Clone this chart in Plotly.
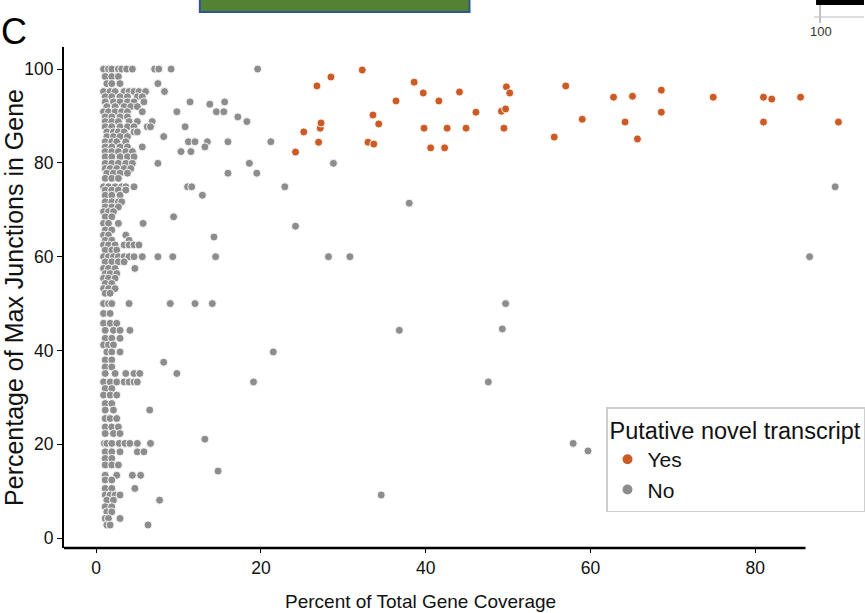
import plotly.graph_objects as go

# ---------------- data ----------------
# "No" (grey) points: rows of (y value, list of x values)
no_rows = [
    (100.0, [0.9, 1.5, 1.9, 2.7, 3.1, 3.7, 4.4, 7.1, 7.6, 9.1, 19.6]),
    (98.4, [1.1, 1.9, 2.7]),
    (96.9, [1.3, 1.9, 2.9, 7.5]),
    (95.2, [0.9, 1.7, 2.3, 3.4, 4.0, 4.6, 5.2, 6.0, 8.3]),
    (94.1, [1.1, 1.9, 2.9, 3.8, 5.0, 5.6]),
    (93.0, [1.1, 2.1, 2.9, 3.8, 4.6, 5.8, 11.4, 15.6]),
    (92.5, [13.8]),
    (92.0, [1.3, 2.3, 3.4, 4.2, 5.0]),
    (90.9, [0.9, 1.5, 2.3, 3.1, 3.8, 5.6, 9.8, 14.6, 15.5]),
    (89.8, [1.1, 1.9, 2.9, 3.8, 17.2]),
    (88.8, [1.1, 1.9, 2.7, 4.0, 5.0, 6.8, 18.3]),
    (87.7, [1.1, 1.9, 2.9, 3.8, 4.6, 6.2, 6.6, 10.8]),
    (86.6, [1.3, 2.1, 2.7, 3.4, 4.6, 5.0]),
    (85.6, [1.3, 2.1, 2.9, 3.8, 8.2]),
    (84.5, [1.1, 1.9, 2.5, 3.6, 11.2, 12.0, 13.5, 16.0, 21.2]),
    (83.4, [1.1, 1.9, 2.9, 3.8, 5.6, 13.2]),
    (82.4, [1.1, 1.9, 2.7, 3.6, 4.4, 10.3, 11.5]),
    (81.3, [1.1, 1.9, 2.9, 3.8, 4.6]),
    (79.9, [1.1, 1.9, 2.7, 3.6, 4.4, 7.5, 18.6, 28.8]),
    (78.8, [1.1, 1.7, 2.5, 3.4, 4.2]),
    (77.8, [1.3, 2.1, 2.9, 3.8, 16.0, 19.5]),
    (76.7, [1.1, 1.9, 2.7]),
    (74.9, [0.9, 1.5, 2.3, 3.1, 3.6, 4.6, 11.1, 11.6, 22.9, 89.7]),
    (74.2, [1.1, 1.9, 2.7, 3.6]),
    (73.1, [1.1, 1.9, 2.9, 12.9]),
    (71.7, [1.1, 1.9, 2.7, 3.1]),
    (71.4, [38.0]),
    (70.6, [1.1, 1.9, 2.7]),
    (69.6, [0.9, 1.5, 2.1]),
    (68.5, [1.1, 1.9, 9.4]),
    (67.1, [0.9, 1.5, 2.7, 5.7]),
    (66.5, [24.2]),
    (65.7, [1.1, 1.9]),
    (64.6, [0.9, 1.5, 3.6]),
    (64.2, [14.3]),
    (63.5, [1.1, 1.9, 4.0]),
    (62.5, [0.9, 1.5, 2.3, 3.4, 4.0, 4.6, 5.2]),
    (61.4, [1.1, 1.9, 2.5]),
    (60.0, [0.9, 1.5, 2.1, 2.7, 3.4, 4.0, 4.6, 5.6, 7.5, 9.3, 14.5, 28.2, 30.8, 86.6]),
    (58.9, [1.1, 1.9, 2.7, 3.4]),
    (57.5, [0.9, 1.5, 2.3, 4.7]),
    (56.4, [1.1, 1.7, 2.5]),
    (55.4, [0.9, 1.5, 2.3]),
    (54.3, [1.1, 1.9]),
    (53.2, [0.9, 1.5, 2.3]),
    (52.2, [1.1, 1.7]),
    (50.0, [0.9, 1.5, 1.9, 4.0, 9.0, 12.0, 14.1, 49.7]),
    (47.9, [0.9, 1.7]),
    (45.8, [0.9, 1.7, 2.5]),
    (44.3, [1.1, 2.1, 2.9, 4.1, 36.8]),
    (44.6, [49.3]),
    (42.6, [1.1, 1.9, 2.9]),
    (41.2, [0.9, 1.5, 2.1]),
    (39.7, [1.3, 1.9, 2.9, 21.5]),
    (38.0, [1.1, 1.9]),
    (37.5, [8.2]),
    (36.5, [1.1, 1.9]),
    (35.1, [1.1, 2.3, 3.6, 4.6, 5.3, 9.8]),
    (33.3, [0.9, 1.7, 2.5, 3.4, 4.0, 4.6, 5.0, 19.1, 47.6]),
    (31.9, [1.1, 1.9]),
    (30.5, [0.9, 1.7, 2.5]),
    (28.7, [1.1, 1.9]),
    (27.3, [1.1, 2.1, 6.5]),
    (25.5, [1.1, 1.7, 2.5]),
    (23.7, [1.1, 1.9, 2.7]),
    (22.3, [1.1, 2.1, 2.9]),
    (21.1, [13.2]),
    (20.2, [1.0, 1.3, 1.9, 2.8, 3.5, 4.1, 5.0, 6.6, 57.9]),
    (18.4, [1.1, 1.9, 2.9, 5.0, 5.8]),
    (18.6, [59.7]),
    (17.0, [1.1, 1.9]),
    (15.6, [1.1, 1.9, 2.7]),
    (14.3, [14.8]),
    (13.4, [1.1, 2.5, 4.4, 5.4]),
    (12.4, [1.1, 1.9]),
    (10.6, [1.1, 1.9, 4.7]),
    (9.2, [1.1, 1.7, 2.3, 2.9, 34.6]),
    (8.1, [1.3, 2.1, 7.7]),
    (6.7, [1.1, 1.9]),
    (5.6, [1.3, 1.9]),
    (4.2, [1.1, 1.5, 2.9]),
    (2.8, [1.3, 1.7, 6.3]),
]

yes_x = [24.2, 25.2, 26.8, 27.0, 27.2, 27.3, 28.5, 32.3, 33.0, 33.6, 33.7, 34.3,
         36.4, 38.6, 39.7, 39.8, 40.6, 41.6, 42.3, 42.6, 44.1, 44.9, 46.1, 49.2,
         49.5, 49.7, 49.8, 50.2, 55.6, 57.0, 59.0, 62.8, 64.2, 65.1, 65.7, 68.6,
         68.6, 74.9, 81.0, 81.0, 82.0, 85.5, 90.1]
yes_y = [82.3, 86.6, 96.4, 84.4, 87.4, 88.5, 98.3, 99.8, 84.4, 90.2, 84.0, 88.3,
         93.2, 97.2, 94.9, 87.4, 83.2, 93.2, 83.2, 87.4, 95.1, 87.4, 90.8, 91.0,
         87.4, 91.5, 96.2, 94.9, 85.5, 96.4, 89.3, 94.0, 88.7, 94.2, 85.1, 95.5,
         90.8, 94.0, 94.0, 88.7, 93.6, 94.0, 88.7]

x_ticks = [0, 20, 40, 60, 80]
y_ticks = [0, 20, 40, 60, 80, 100]

x_title = "Percent of Total Gene Coverage"
y_title = "Percentage of Max Junctions in Gene"
legend_title = "Putative novel transcript"

no_x = [x for y, xs in no_rows for x in xs]
no_y = [y for y, xs in no_rows for x in xs]

GREY = "#8d8d8d"
ORANGE = "#cc5a24"
SANS = "Liberation Sans, Arial, sans-serif"

X_MIN, X_AXIS_END, X_MAX = -3.9, 86.1, 93.2
Y_MIN, Y_MAX = -2.1, 104.7

L, T, R, B = 64, 47, 865, 548
PW, PH = R - L, B - T


def px(xp):
    return (xp - L) / PW


def py(yp):
    return (B - yp) / PH


fig = go.Figure()
fig.add_trace(go.Scatter(
    x=yes_x, y=yes_y, mode="markers", name="Yes",
    marker=dict(color=ORANGE, size=8, line=dict(color="white", width=0.9)),
))
fig.add_trace(go.Scatter(
    x=no_x, y=no_y, mode="markers", name="No",
    marker=dict(color=GREY, size=8, line=dict(color="white", width=0.9)),
))

fig.update_layout(
    width=865, height=613,
    margin=dict(l=L, r=865 - R, t=T, b=613 - B),
    paper_bgcolor="white", plot_bgcolor="white",
    showlegend=True,
    legend=dict(
        title=dict(text=legend_title, font=dict(family=SANS, size=23.5, color="#111")),
        font=dict(family=SANS, size=21, color="#111"),
        x=px(607), y=py(407), xanchor="left", yanchor="top",
        bordercolor="#cfcfcf", borderwidth=1.5, bgcolor="white",
        itemsizing="constant", tracegroupgap=0,
    ),
    xaxis=dict(
        range=[X_MIN, X_MAX], tickvals=x_ticks, ticktext=[str(v) for v in x_ticks],
        showgrid=False, zeroline=False, showline=False, automargin=False,
        ticks="outside", ticklen=4, tickcolor="black", tickwidth=1.2,
        tickfont=dict(family=SANS, size=17.5, color="#111"),
    ),
    yaxis=dict(
        range=[Y_MIN, Y_MAX], tickvals=y_ticks, ticktext=[str(v) for v in y_ticks],
        showgrid=False, zeroline=False, showline=True, linecolor="black", linewidth=2,
        automargin=False,
        ticks="outside", ticklen=5, tickcolor="black", tickwidth=1.2,
        tickfont=dict(family=SANS, size=17.5, color="#111"),
        title=dict(text=y_title, font=dict(family=SANS, size=25, color="#111"), standoff=9),
    ),
)

# x-axis title (centred under the drawn spine, as in the reference)
fig.add_annotation(text=x_title, xref="paper", yref="paper", x=px(421), y=py(601),
                   xanchor="center", yanchor="middle", showarrow=False,
                   font=dict(family=SANS, size=19, color="#111"))

# bottom spine (stops before the right-most points)
fig.add_shape(type="line", xref="x", yref="paper", x0=X_MIN, x1=X_AXIS_END, y0=0, y1=0,
              line=dict(color="black", width=2.5))

# cropped neighbouring-panel fragments at the top
fig.add_shape(type="rect", xref="paper", yref="paper",
              x0=px(200), x1=px(470), y0=py(12), y1=py(-4),
              fillcolor="#548235", line=dict(color="#2f5597", width=2))
fig.add_shape(type="rect", xref="paper", yref="paper",
              x0=px(817), x1=1.0, y0=py(5), y1=py(-2),
              fillcolor="black", line=dict(width=0))
fig.add_shape(type="line", xref="paper", yref="paper",
              x0=px(821), x1=px(821), y0=py(23), y1=py(5),
              line=dict(color="#999", width=1.2))
fig.add_shape(type="line", xref="paper", yref="paper",
              x0=px(815), x1=1.0, y0=py(17), y1=py(17),
              line=dict(color="#bbb", width=1))
fig.add_annotation(text="100", xref="paper", yref="paper", x=px(822), y=py(31),
                   xanchor="center", yanchor="middle",
                   showarrow=False, font=dict(family=SANS, size=13, color="#333"))
fig.add_annotation(text="C", xref="paper", yref="paper", x=px(14), y=py(31),
                   xanchor="center", yanchor="middle",
                   showarrow=False, font=dict(family=SANS, size=36, color="black"))

fig.write_html("out.html")
